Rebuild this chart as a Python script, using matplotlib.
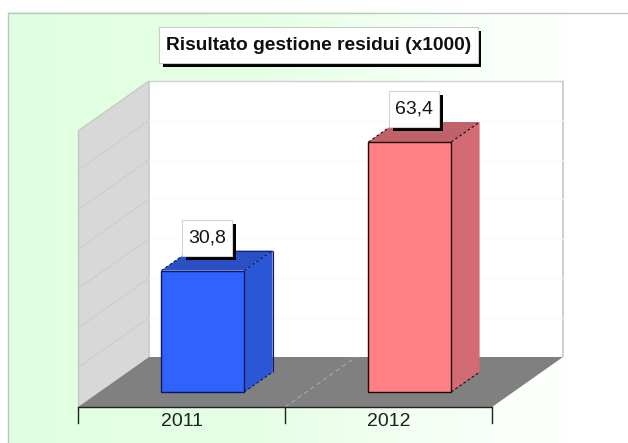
import numpy as np
import matplotlib
matplotlib.use('Agg')
import matplotlib.pyplot as plt
from matplotlib.patches import Polygon, Rectangle
from matplotlib.transforms import Affine2D

# Datos del grafico
titulo = 'Risultato gestione residui (x1000)'
categorias = ['2011', '2012']
valores = [30.8, 63.4]
etiquetas = ['30,8', '63,4']
y_max = 70
y_paso = 10

# Colores por barra: frente, lateral, arriba, borde
col_frente = ['#2f62ff', '#ff8084']
col_lado = ['#2b56d6', '#d26c72']
col_arriba = ['#2a50c4', '#c0626a']
col_borde = ['#0a1a60', '#200808']

# Escalas en pixeles de la imagen original
W, H = 628, 443
X0, Y0 = 78, 407      # esquina frontal del piso
PX_CAT = 207          # ancho de cada categoria
PX_VAL = 276 / y_max  # pixeles por unidad de valor
DX, DY = 71, 50       # profundidad del 3D
D1, D2 = 0.3, 0.7     # profundidad que ocupa cada barra
ANCHO = 0.4

plt.rcParams['font.family'] = ['Liberation Sans', 'DejaVu Sans']

fig = plt.figure(figsize=(W / 100, H / 100), dpi=100, facecolor='white')
ax = fig.add_axes([0, 0, 1, 1])
ax.set_xlim(-X0 / PX_CAT, (W - X0) / PX_CAT)
ax.set_ylim((Y0 - H) / PX_VAL, Y0 / PX_VAL)
ax.axis('off')

prof_x = DX / PX_CAT
prof_y = DY / PX_VAL
n = len(categorias)


def p(x, v, d):
    "Proyecta categoria, valor y profundidad a coordenadas del eje"
    return (x + d * prof_x, v + d * prof_y)


def cara(puntos, color, z, **kw):
    ax.add_patch(Polygon([p(*q) for q in puntos], closed=True, facecolor=color, edgecolor='none', zorder=z, **kw))


def linea(a, b, color, lw=1, ls='-', z=3):
    a, b = p(*a), p(*b)
    ax.plot([a[0], b[0]], [a[1], b[1]], color=color, lw=lw, ls=ls, zorder=z, solid_capstyle='butt')


# Transformacion en pixeles para fondo y cajas
tr_px = Affine2D().scale(1, -1).translate(0, H)

# Fondo con degradado verde a blanco
xs = np.linspace(0, 1, 256)
r = np.interp(xs, [0, 0.4, 0.7, 0.9, 1], [224, 229, 246, 254, 255])
g = np.full(256, 255.0)
grad = np.dstack([r, g, r]) / 255
ax.imshow(grad, extent=(8, W, H, 12), transform=tr_px, aspect='auto', zorder=0)
ax.set_xlim(-X0 / PX_CAT, (W - X0) / PX_CAT)
ax.set_ylim((Y0 - H) / PX_VAL, Y0 / PX_VAL)
ax.plot([8, 8, W], [H, 12.5, 12.5], color='#bfc5bf', lw=1, transform=tr_px, zorder=1)

# Pared del fondo, pared izquierda y piso
cara([(0, 0, 1), (n, 0, 1), (n, y_max, 1), (0, y_max, 1)], 'white', 1)
cara([(0, 0, 0), (0, 0, 1), (0, y_max, 1), (0, y_max, 0)], '#d8d8d8', 1)
cara([(0, 0, 0), (n, 0, 0), (n, 0, 1), (0, 0, 1)], '#808080', 1)
linea((0, y_max, 1), (n, y_max, 1), '#d0d0d0', z=2)
linea((n, 0, 1), (n, y_max, 1), '#c8c8c8', lw=1.2, z=2)
linea((0, 0, 1), (0, y_max, 1), '#c8c8c8', lw=1.2, z=2)
linea((0, 0, 0), (0, y_max, 0), '#c4c4c4', z=2)
linea((0, y_max, 0), (0, y_max, 1), '#c4ccc4', z=2)

# Lineas de la grilla
for v in range(y_paso, y_max, y_paso):
    linea((0, v, 0), (0, v, 1), '#cdcdcd', lw=0.8, z=2)
    linea((0, v, 1), (n, v, 1), '#fbfbfb', lw=0.8, z=2)
linea((1, 0, 0), (1, 0, 1), '#a8a8a8', lw=0.8, ls=(0, (4, 3)), z=2)

# Eje de categorias
linea((0, 0, 0), (n, 0, 0), '#202020', lw=1, z=3)
for i in range(n + 1):
    ax.plot([i, i], [0, -16 / PX_VAL], color='#202020', lw=1, zorder=3)
for i, c in enumerate(categorias):
    ax.text(i + 0.5, -15 / PX_VAL, c, ha='center', va='center', fontsize=14, color='#202020', zorder=5)

# Barras
for i, v in enumerate(valores):
    x1 = i + 0.5 - ANCHO / 2
    x2 = i + 0.5 + ANCHO / 2
    cara([(x2, 0, D1), (x2, 0, D2), (x2, v, D2), (x2, v, D1)], col_lado[i], 3)
    cara([(x1, v, D1), (x2, v, D1), (x2, v, D2), (x1, v, D2)], col_arriba[i], 3)
    fx, fy = p(i + 0.5, 0, D1)
    ax.bar(fx, v, ANCHO, bottom=fy, color=col_frente[i], edgecolor=col_borde[i], linewidth=1, zorder=4)
    punteado = (0, (2.5, 2))
    linea((x1, v, D1), (x1, v, D2), col_borde[i], lw=0.8, ls=punteado, z=3)
    linea((x2, v, D1), (x2, v, D2), col_borde[i], lw=0.8, ls=punteado, z=3)
    linea((x2, 0, D1), (x2, 0, D2), col_borde[i], lw=0.8, ls=punteado, z=3)
    if i == 0:
        linea((x1, v, D2), (x2, v, D2), col_borde[i], lw=0.6, z=3)
        linea((x2, 0, D2), (x2, v, D2), col_borde[i], lw=0.8, z=3)

    # Caja con el valor, apoyada sobre la cara de arriba
    bx, by = ax.transData.transform((p(i + 0.5, v, D1)[0], p(i + 0.5, v, D2)[1]))
    bx = bx + 4.5
    by = H - by + 5
    ax.add_patch(Rectangle((bx - 21, by - 32), 50, 36, facecolor='black', edgecolor='none', transform=tr_px, zorder=6))
    ax.add_patch(Rectangle((bx - 25, by - 36), 50, 36, facecolor='white', edgecolor='#d4d4d4', lw=0.8, transform=tr_px, zorder=7))
    ax.text(bx, by - 18, etiquetas[i], ha='center', va='center', fontsize=14, color='#151515', transform=tr_px, zorder=8)

# Caja del titulo
ax.add_patch(Rectangle((163, 31), 318, 36, facecolor='black', edgecolor='none', transform=tr_px, zorder=6))
ax.add_patch(Rectangle((159, 27), 319, 36, facecolor='white', edgecolor='#c8cdc8', lw=0.8, transform=tr_px, zorder=7))
ax.text(318.5, 45, titulo, ha='center', va='center', fontsize=13.8, fontweight='bold', color='#101010', transform=tr_px, zorder=8)

fig.savefig('out.png', dpi=100)
